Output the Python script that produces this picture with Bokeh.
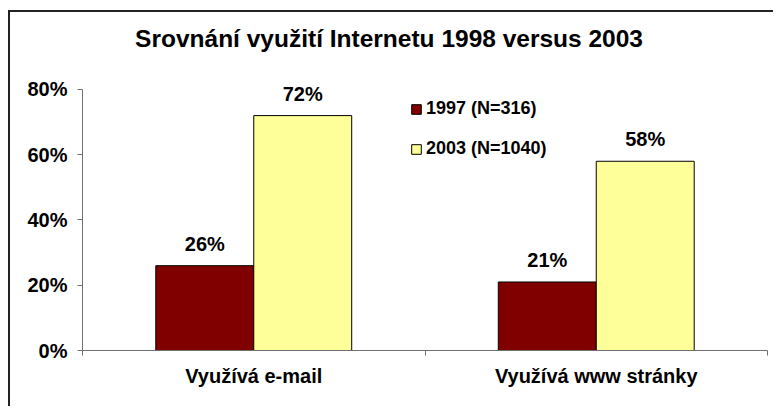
from bokeh.plotting import figure
from bokeh.models import (ColumnDataSource, FixedTicker, NumeralTickFormatter,
                          Legend, LegendItem, Label, Range1d)
from bokeh.transform import dodge
from bokeh.core.properties import value
from bokeh.embed import file_html
from bokeh.resources import INLINE

# ---- data ----
title_text = "Srovnání využití Internetu 1998 versus 2003"
categories = ["Využívá e-mail", "Využívá www stránky"]
series_names = ["1997 (N=316)", "2003 (N=1040)"]
values_1997 = [0.26, 0.21]
values_2003 = [0.72, 0.58]
y_ticks = [0.0, 0.2, 0.4, 0.6, 0.8]

# ---- style ----
FONT = "Liberation Sans"
C1997 = "#800000"
C2003 = "#FFFF99"
AXIS_C = "#707070"
BAR_W = 0.286

x_pos = [i + 0.5 for i in range(len(categories))]
boundaries = [float(i) for i in range(len(categories) + 1)]

src = ColumnDataSource(dict(
    x=x_pos,
    v1=values_1997,
    v2=values_2003,
    l1=[f"{round(v * 100)}%" for v in values_1997],
    l2=[f"{round(v * 100)}%" for v in values_2003],
))

p = figure(width=765, height=396,
           x_range=Range1d(0, len(categories)), y_range=Range1d(0, 1.036),
           output_backend="svg", toolbar_location=None,
           min_border_left=72, min_border_right=8,
           min_border_top=0, min_border_bottom=58,
           outline_line_color=None,
           background_fill_color="white", border_fill_color="white")
p.styles = {"margin-left": "8px", "margin-top": "10px",
            "border-left": "2px solid #222222",
            "border-top": "2px solid #222222"}
p.grid.visible = False

# x axis: labels at category centres, tick marks at category boundaries
xa = p.xaxis[0]
xa.ticker = FixedTicker(ticks=x_pos, minor_ticks=boundaries)
xa.major_label_overrides = {x: c for x, c in zip(x_pos, categories)}
xa.major_tick_out = 0
xa.major_tick_in = 0
xa.minor_tick_out = 5
xa.minor_tick_in = 0
xa.major_label_standoff = 9
xa.axis_line_color = AXIS_C
xa.minor_tick_line_color = AXIS_C

ya = p.yaxis[0]
ya.ticker = FixedTicker(ticks=y_ticks)
ya.formatter = NumeralTickFormatter(format="0%")
ya.bounds = (0, y_ticks[-1])
ya.major_tick_out = 5
ya.major_tick_in = 0
ya.minor_tick_out = 0
ya.minor_tick_in = 0
ya.major_label_standoff = 10
ya.axis_line_color = AXIS_C
ya.major_tick_line_color = AXIS_C

for ax in (xa, ya):
    ax.major_label_text_font = FONT
    ax.major_label_text_font_style = "bold"
    ax.major_label_text_font_size = "20px"
    ax.major_label_text_color = "black"

r1 = p.vbar(x=dodge("x", -BAR_W / 2), top="v1", width=BAR_W, source=src,
            fill_color=C1997, line_color="black", line_width=1)
r2 = p.vbar(x=dodge("x", BAR_W / 2), top="v2", width=BAR_W, source=src,
            fill_color=C2003, line_color="black", line_width=1)

for col, lab, off in (("v1", "l1", -BAR_W / 2), ("v2", "l2", BAR_W / 2)):
    p.text(x=dodge("x", off), y=col, text=lab, source=src,
           text_align="center", text_baseline="alphabetic", y_offset=-22,
           text_font=value(FONT), text_font_style="bold",
           text_font_size="20px", text_color="black")

p.add_layout(Label(x=0.895, y=0.9578, text=title_text,
                   text_align="center", text_baseline="alphabetic",
                   text_font=FONT, text_font_style="bold",
                   text_font_size="24.5px", text_color="black"))

legend = Legend(items=[LegendItem(label=series_names[0], renderers=[r1]),
                       LegendItem(label=series_names[1], renderers=[r2])],
                location=(328, 191), orientation="vertical",
                glyph_width=12, glyph_height=12, label_standoff=4,
                spacing=19, padding=0, margin=0, label_height=21,
                border_line_color=None, background_fill_alpha=0,
                label_text_font=FONT, label_text_font_style="bold",
                label_text_font_size="18px", label_text_color="black")
p.add_layout(legend)

open("out.html", "w").write(file_html(p, INLINE))
